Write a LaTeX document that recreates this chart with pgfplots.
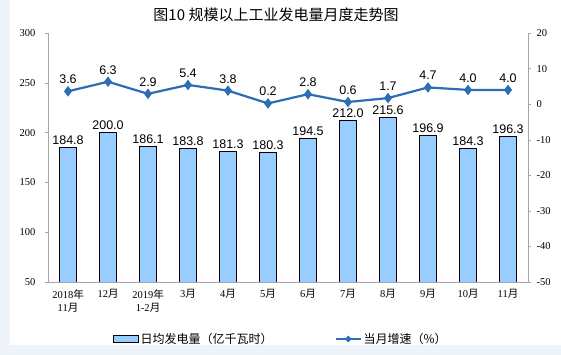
\documentclass[border=0pt]{standalone}
\usepackage{fontspec}
\setmainfont{Liberation Serif}
\newfontfamily\cjk{Noto Sans CJK SC}
\newfontfamily\arial{Liberation Sans}
\usepackage{pgfplots}
\usepackage{pgfplotstable}
\pgfplotsset{compat=1.18}
\definecolor{barfill}{HTML}{99CCFF}
\definecolor{linec}{HTML}{2E6DB5}
\definecolor{axgray}{HTML}{A6A6A6}
\definecolor{bgblue}{HTML}{EEF4FA}
\pgfplotstableread{
x bar rate
0 184.8 3.6
1 200.0 6.3
2 186.1 2.9
3 183.8 5.4
4 181.3 3.8
5 180.3 0.2
6 194.5 2.8
7 212.0 0.6
8 215.6 1.7
9 196.9 4.7
10 184.3 4.0
11 196.3 4.0
}\datatable
\pgfplotsset{common/.style={
  /pgf/number format/assume math mode=true,
  scale only axis, width=480pt, height=249pt,
  xmin=-0.5, xmax=11.5,
  axis line style={axgray}, tick style={axgray, thin},
  tick label style={font=\fontsize{10.5}{13}\selectfont},
}}
\begin{document}
\begin{tikzpicture}
\fill[bgblue] (0pt,0pt) rectangle (561pt,355pt);
\fill[white] (10pt,10pt) rectangle (561pt,355pt);
\node[font=\cjk\fontsize{15}{18}\selectfont] at (276pt,340pt) {图10 规模以上工业发电量月度走势图};
\begin{axis}[common, at={(48pt,73pt)}, anchor=south west,
  ymin=50, ymax=300, ytick={50,100,...,300},
  axis x line*=bottom, axis y line*=left,
  ytick align=outside, ytick pos=left, major tick length=3pt,
  yticklabel style={xshift=-6pt},
  xtick={0,...,11}, 
  xticklabels={{2018{\cjk 年}\\11{\cjk 月}},{12{\cjk 月}},{2019{\cjk 年}\\1-2{\cjk 月}},{3{\cjk 月}},{4{\cjk 月}},{5{\cjk 月}},{6{\cjk 月}},{7{\cjk 月}},{8{\cjk 月}},{9{\cjk 月}},{10{\cjk 月}},{11{\cjk 月}}},
  xticklabel style={align=center, yshift=-4pt, font=\fontsize{10.5}{13}\selectfont},
  x tick style={draw=none},
  minor xtick={0.5,1.5,...,10.5}, minor x tick style={axgray}, minor tick length=3pt,
]
\addplot[ybar, bar width=17pt, fill=barfill, draw=black, line width=0.8pt,
  nodes near coords,
  every node near coord/.append style={font=\arial\fontsize{12.5}{14}\selectfont, black, yshift=-1pt},
  /pgf/number format/.cd, fixed, fixed zerofill, precision=1]
  table[x=x, y=bar] {\datatable};
\end{axis}
\begin{axis}[common, at={(48pt,73pt)}, anchor=south west,
  ymin=-50, ymax=20, ytick={-50,-40,...,20},
  axis y line*=right, axis x line=none,
  ytick align=outside, major tick length=3pt,
  yticklabel style={xshift=2pt},
  legend style={at={(0.485,-0.229)}, anchor=center, draw=none, fill=none,
    legend columns=2, font=\cjk\fontsize{12}{14}\selectfont,
    /tikz/every even column/.append style={column sep=60pt}},
]
\addlegendimage{legend image code/.code={\draw[fill=barfill, draw=black, line width=0.8pt] (0pt,-3.5pt) rectangle (25pt,3.5pt);}}
\addlegendentry{日均发电量（亿千瓦时）}
\addplot[linec, line width=2.2pt, mark=diamond*, mark size=3.5pt, mark options={fill=linec},
  nodes near coords,
  every node near coord/.append style={font=\arial\fontsize{12.5}{14}\selectfont, black, yshift=3pt},
  legend image code/.code={\draw[linec, line width=2pt] (0pt,0pt) -- (25pt,0pt); \fill[linec] (12.5pt,0pt) circle (1.8pt);},
  /pgf/number format/.cd, fixed, fixed zerofill, precision=1]
  table[x=x, y=rate] {\datatable};
\addlegendentry{当月增速（\%）}
\end{axis}
\end{tikzpicture}
\end{document}
